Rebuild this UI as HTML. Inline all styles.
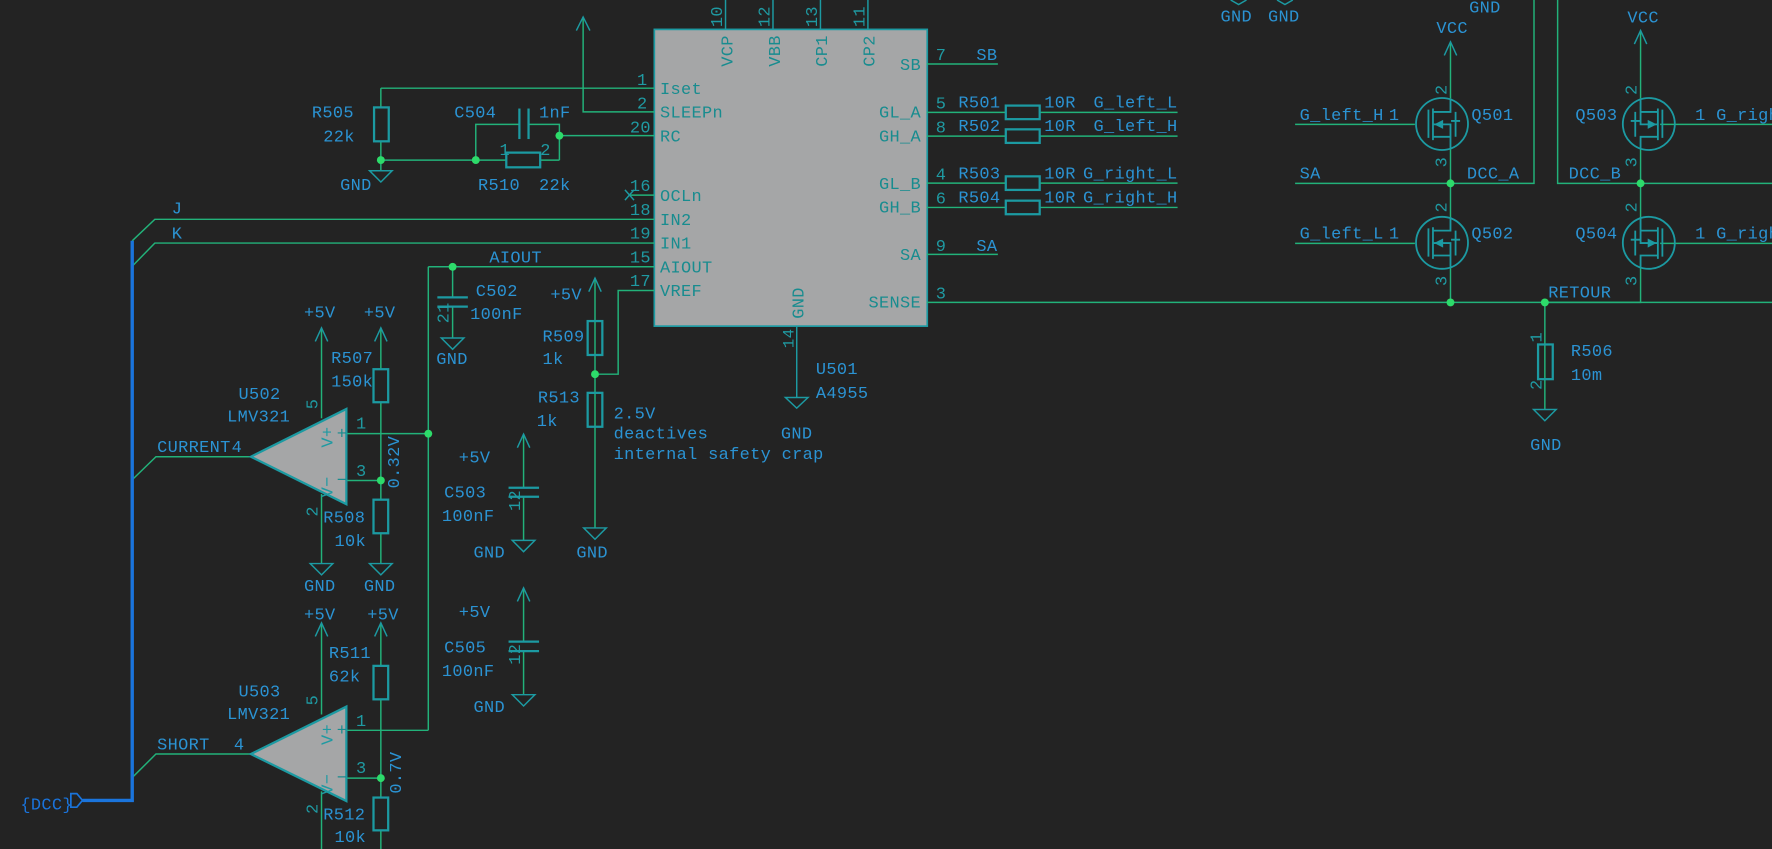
<!DOCTYPE html>
<html><head><meta charset="utf-8"><style>
html,body{margin:0;padding:0;background:#232323;overflow:hidden}
svg{display:block}
text{font-family:"Liberation Mono",monospace;font-size:15px;letter-spacing:0.3px}
.w{stroke:#22b27a;stroke-width:1.3;fill:none}
.c{stroke:#1c9aa2;stroke-width:2;fill:none}
.p{stroke:#1c9aa2;stroke-width:1.3;fill:none}
.r{fill:#2b93d3}
.n{fill:#188c8f}
.pn{fill:#1f9aa2;font-size:14px}
.j{fill:#2ddb6a}
</style></head><body>
<svg width="1772" height="849" viewBox="0 0 1568 751" preserveAspectRatio="none" xmlns="http://www.w3.org/2000/svg">
<rect width="1568" height="751" fill="#232323"/>

<rect x="579" y="26" width="241.5" height="262.5" fill="#a5a6a7" stroke="#1c9aa2" stroke-width="1.5"/>
<g class="p"><line x1="642" y1="0" x2="642" y2="26"/><line x1="684" y1="0" x2="684" y2="26"/><line x1="726" y1="0" x2="726" y2="26"/><line x1="768" y1="0" x2="768" y2="26"/></g>
<g class="pn">
<text transform="translate(639,24) rotate(-90)">10</text>
<text transform="translate(681,24) rotate(-90)">12</text>
<text transform="translate(723,24) rotate(-90)">13</text>
<text transform="translate(765,24) rotate(-90)">11</text>
</g>
<g class="n">
<text transform="translate(648,59) rotate(-90)">VCP</text>
<text transform="translate(690,59) rotate(-90)">VBB</text>
<text transform="translate(732,59) rotate(-90)">CP1</text>
<text transform="translate(774,59) rotate(-90)">CP2</text>
<text transform="translate(711,282) rotate(-90)">GND</text>
</g>
<g class="w">
<line x1="337" y1="78" x2="579" y2="78"/>
<polyline points="516,15 516,99 579,99"/>
<line x1="495" y1="120" x2="579" y2="120"/>
<line x1="557" y1="172.6" x2="579" y2="172.6"/>
<polyline points="117,213 137,194 579,194"/>
<polyline points="117,235.5 137,215 579,215"/>
<line x1="379" y1="236" x2="579" y2="236"/>
<polyline points="526.5,331 547,331 547,257 579,257"/>
</g>
<path class="p" d="M510,27 L516,15 L522,27"/>
<path class="p" d="M553,168 L561,177 M561,168 L553,177"/>
<g class="pn" text-anchor="end">
<text x="573" y="75">1</text><text x="573" y="96">2</text><text x="576" y="117">20</text>
<text x="576" y="169">16</text><text x="576" y="190">18</text><text x="576" y="211">19</text>
<text x="576" y="232">15</text><text x="576" y="253">17</text>
</g>
<g class="n">
<text x="584" y="83">Iset</text><text x="584" y="104">SLEEPn</text><text x="584" y="125">RC</text>
<text x="584" y="178">OCLn</text><text x="584" y="199">IN2</text><text x="584" y="220">IN1</text>
<text x="584" y="241">AIOUT</text><text x="584" y="262">VREF</text>
</g>
<g class="w">
<line x1="820" y1="56.6" x2="883" y2="56.6"/>
<line x1="820" y1="99.4" x2="1042" y2="99.4"/>
<line x1="820" y1="120.4" x2="1042" y2="120.4"/>
<line x1="820" y1="162" x2="1042" y2="162"/>
<line x1="820" y1="183.5" x2="1042" y2="183.5"/>
<line x1="820" y1="225" x2="883" y2="225"/>
<line x1="820" y1="267.5" x2="1568" y2="267.5"/>
</g>
<g class="c">
<rect x="890" y="93.4" width="30" height="12" fill="#232323"/>
<rect x="890" y="114.4" width="30" height="12" fill="#232323"/>
<rect x="890" y="156" width="30" height="12" fill="#232323"/>
<rect x="890" y="177.5" width="30" height="12" fill="#232323"/>
</g>
<g class="n" text-anchor="end">
<text x="815" y="62">SB</text><text x="815" y="104">GL_A</text><text x="815" y="125">GH_A</text>
<text x="815" y="167">GL_B</text><text x="815" y="188">GH_B</text><text x="815" y="230">SA</text>
<text x="815" y="272">SENSE</text>
</g>
<g class="pn">
<text x="828" y="53">7</text><text x="828" y="96">5</text><text x="828" y="117">8</text>
<text x="828" y="159">4</text><text x="828" y="180">6</text><text x="828" y="222">9</text><text x="828" y="264">3</text>
</g>
<g class="r">
<text x="864" y="53">SB</text><text x="864" y="222">SA</text>
<text x="848" y="95">R501</text><text x="848" y="116">R502</text><text x="848" y="158">R503</text><text x="848" y="179">R504</text>
<text x="924" y="95">10R</text><text x="924" y="116">10R</text><text x="924" y="158">10R</text><text x="924" y="179">10R</text>
</g>
<g class="r" text-anchor="end">
<text x="1042" y="95">G_left_L</text><text x="1042" y="116">G_left_H</text>
<text x="1042" y="158">G_right_L</text><text x="1042" y="179">G_right_H</text>
</g>
<line class="p" x1="705" y1="288.5" x2="705" y2="351.6"/>
<path class="p" d="M695,351.6 L715,351.6 L705,361 Z"/>
<text class="pn" transform="translate(702,308) rotate(-90)">14</text>
<text class="r" x="722" y="331">U501</text>
<text class="r" x="722" y="352">A4955</text>
<text class="r" x="691" y="388">GND</text>

<g class="w">
<line x1="337" y1="78" x2="337" y2="95"/><line x1="337" y1="125" x2="337" y2="151"/>
<line x1="337" y1="141.6" x2="448" y2="141.6"/><line x1="478" y1="141.6" x2="495" y2="141.6"/>
<polyline points="421,141.6 421,110 459.6,110"/><polyline points="467.7,110 495,110 495,141.6"/>
</g>
<rect class="c" x="331" y="95" width="13" height="30"/>
<path class="p" d="M327,151 L347,151 L337,161 Z"/>
<line class="c" x1="459.6" y1="96" x2="459.6" y2="123"/><line class="c" x1="467.7" y1="96" x2="467.7" y2="123"/>
<rect class="c" x="448" y="135" width="30" height="13"/>
<circle class="j" cx="337" cy="141.6" r="3.5"/><circle class="j" cx="421" cy="141.6" r="3.5"/><circle class="j" cx="495" cy="120" r="3.5"/>
<g class="r">
<text x="276" y="104">R505</text><text x="286" y="125">22k</text><text x="301" y="168">GND</text>
<text x="402" y="104">C504</text><text x="477" y="104">1nF</text>
<text x="423" y="168">R510</text><text x="477" y="168">22k</text>
<text x="152" y="189">J</text><text x="152" y="211">K</text>
<text x="433" y="232">AIOUT</text>
</g>
<g class="pn"><text x="442" y="137">1</text><text x="478" y="137">2</text></g>

<line class="w" x1="379" y1="236" x2="379" y2="646"/>
<line class="w" x1="400.5" y1="236" x2="400.5" y2="263"/>
<line class="w" x1="400.5" y1="271" x2="400.5" y2="299"/>
<line class="c" x1="387" y1="263" x2="414" y2="263"/><line class="c" x1="387" y1="271.2" x2="414" y2="271.2"/>
<path class="p" d="M390.5,299 L410.5,299 L400.5,309 Z"/>
<circle class="j" cx="400.5" cy="236" r="3.5"/>
<g class="r"><text x="421" y="262">C502</text><text x="416" y="282">100nF</text><text x="386" y="322">GND</text></g>
<g class="pn"><text transform="translate(397,286) rotate(-90)">21</text></g>

<line class="w" x1="526.5" y1="246" x2="526.5" y2="467"/>
<path class="p" d="M521,258 L526.5,246 L532,258"/>
<rect class="c" x="520" y="284" width="13" height="30" fill="#232323"/>
<rect class="c" x="520" y="347.5" width="13" height="30" fill="#232323"/>
<path class="p" d="M516.5,467 L536.5,467 L526.5,477 Z"/>
<circle class="j" cx="526.5" cy="331" r="3.5"/>
<g class="r">
<text x="487" y="265">+5V</text><text x="480" y="302">R509</text><text x="480" y="322">1k</text>
<text x="476" y="356">R513</text><text x="475" y="377">1k</text><text x="510" y="493">GND</text>
<text x="543" y="370">2.5V</text><text x="543" y="388">deactives</text><text x="543" y="406">internal safety crap</text>
</g>

<g class="w">
<line x1="463.3" y1="384" x2="463.3" y2="431.4"/><line x1="463.3" y1="439" x2="463.3" y2="478"/>
<line x1="463.3" y1="520" x2="463.3" y2="567.6"/><line x1="463.3" y1="576" x2="463.3" y2="614.5"/>
</g>
<path class="p" d="M457.8,396 L463.3,384 L468.8,396 M457.8,532 L463.3,520 L468.8,532"/>
<g class="c"><line x1="450" y1="431.4" x2="477" y2="431.4"/><line x1="450" y1="439.4" x2="477" y2="439.4"/>
<line x1="450" y1="567.6" x2="477" y2="567.6"/><line x1="450" y1="576" x2="477" y2="576"/></g>
<path class="p" d="M453.3,478 L473.3,478 L463.3,488 Z M453.3,614.5 L473.3,614.5 L463.3,624.5 Z"/>
<g class="r">
<text x="406" y="409">+5V</text><text x="393" y="440">C503</text><text x="391" y="461">100nF</text><text x="419" y="493">GND</text>
<text x="406" y="546">+5V</text><text x="393" y="577">C505</text><text x="391" y="598">100nF</text><text x="419" y="630">GND</text>
</g>
<g class="pn"><text transform="translate(460,452) rotate(-90)">12</text><text transform="translate(460,588) rotate(-90)">12</text></g>

<g class="w">
<line x1="284.5" y1="290" x2="284.5" y2="370"/><line x1="284.5" y1="437" x2="284.5" y2="498.5"/>
<line x1="337" y1="290" x2="337" y2="326.6"/><line x1="337" y1="356" x2="337" y2="442"/><line x1="337" y1="472" x2="337" y2="498.5"/>
<line x1="306.5" y1="383.6" x2="379" y2="383.6"/><line x1="306.5" y1="425" x2="337" y2="425"/>
<polyline points="117,424.4 138,404 222,404"/>
</g>
<path class="p" d="M279,302 L284.5,290 L290,302 M331.5,302 L337,290 L342.5,302"/>
<path d="M222,404 L306.5,361.8 L306.5,446 Z" fill="#a5a6a7" stroke="#1c9aa2" stroke-width="2"/>
<rect class="c" x="330.5" y="326.6" width="13" height="29.2"/>
<rect class="c" x="330.5" y="442" width="13" height="29.7"/>
<path class="p" d="M274.5,498.5 L294.5,498.5 L284.5,508.5 Z M327,498.5 L347,498.5 L337,508.5 Z"/>
<circle class="j" cx="379" cy="383.6" r="3.5"/><circle class="j" cx="337" cy="425" r="3.5"/>
<g class="n" font-size="12"><text x="298" y="388">+</text><text x="298" y="429">−</text></g>
<g class="pn">
<text x="315" y="379">1</text><text x="315" y="421">3</text>
<text transform="translate(281,362) rotate(-90)">5</text><text transform="translate(281,457) rotate(-90)">2</text>
<text transform="translate(294,396) rotate(-90)">V+</text><text transform="translate(294,440) rotate(-90)">V−</text>
</g>
<g class="r">
<text x="269" y="281">+5V</text><text x="322" y="281">+5V</text>
<text x="293" y="321">R507</text><text x="293" y="342">150k</text>
<text x="211" y="353">U502</text><text x="201" y="373">LMV321</text>
<text x="139" y="400">CURRENT</text><text x="205" y="400">4</text>
<text x="286" y="462">R508</text><text x="296" y="483">10k</text>
<text x="269" y="523">GND</text><text x="322" y="523">GND</text>
<text transform="translate(353,432) rotate(-90)">0.32V</text>
</g>

<g class="w">
<line x1="284.5" y1="551" x2="284.5" y2="632"/><line x1="284.5" y1="700" x2="284.5" y2="751"/>
<line x1="337" y1="551" x2="337" y2="589"/><line x1="337" y1="618.6" x2="337" y2="705.5"/><line x1="337" y1="734" x2="337" y2="751"/>
<polyline points="306.5,646 379,646"/><line x1="306.5" y1="688.3" x2="337" y2="688.3"/>
<polyline points="117,687.8 138,667 222,667"/>
</g>
<path class="p" d="M279,563 L284.5,551 L290,563 M331.5,563 L337,551 L342.5,563"/>
<path d="M222,667 L306.5,625 L306.5,708.6 Z" fill="#a5a6a7" stroke="#1c9aa2" stroke-width="2"/>
<rect class="c" x="330.5" y="589" width="13" height="29.6"/>
<rect class="c" x="330.5" y="705.5" width="13" height="29"/>
<circle class="j" cx="337" cy="688.3" r="3.5"/>
<g class="n" font-size="12"><text x="298" y="650">+</text><text x="298" y="692">−</text></g>
<g class="pn">
<text x="315" y="642">1</text><text x="315" y="684">3</text>
<text transform="translate(281,624) rotate(-90)">5</text><text transform="translate(281,720) rotate(-90)">2</text>
<text transform="translate(294,659) rotate(-90)">V+</text><text transform="translate(294,703) rotate(-90)">V−</text>
</g>
<g class="r">
<text x="269" y="548">+5V</text><text x="325" y="548">+5V</text>
<text x="291" y="582">R511</text><text x="291" y="603">62k</text>
<text x="211" y="616">U503</text><text x="201" y="636">LMV321</text>
<text x="139" y="663">SHORT</text><text x="207" y="663">4</text>
<text x="286" y="725">R512</text><text x="296" y="745">10k</text>
<text transform="translate(355,702) rotate(-90)">0.7V</text>
</g>

<polyline points="117,213 117,708 73,708" fill="none" stroke="#1a74dc" stroke-width="3"/>
<path d="M62.7,702 L68,702 L73,708 L68,714 L62.7,714 Z" fill="none" stroke="#1a74dc" stroke-width="1.5"/>
<text x="18" y="716" fill="#1a74dc">{DCC}</text>

<path class="p" d="M1089,0 L1096,4 L1103,0 M1130,0 L1137,4 L1144,0"/>
<g class="r"><text x="1080" y="19">GND</text><text x="1122" y="19">GND</text><text x="1300" y="11">GND</text></g>

<g class="w">
<line x1="1283.5" y1="37" x2="1283.5" y2="87"/><line x1="1283.5" y1="132" x2="1283.5" y2="192"/><line x1="1283.5" y1="237" x2="1283.5" y2="267.5"/>
<line x1="1146" y1="110" x2="1252" y2="110"/><line x1="1146" y1="215.3" x2="1252" y2="215.3"/>
<polyline points="1146,162.2 1357.4,162.2 1357.4,0"/>
<polyline points="1378.3,0 1378.3,162.2 1568,162.2"/>
<line x1="1451.7" y1="27" x2="1451.7" y2="87"/><line x1="1451.7" y1="132" x2="1451.7" y2="192"/><polyline points="1451.7,237 1451.7,267.5 1367,267.5"/>
<line x1="1469" y1="110" x2="1568" y2="110"/><line x1="1469" y1="215.3" x2="1568" y2="215.3"/>
<line x1="1367" y1="267.5" x2="1367" y2="362"/>
</g>
<path class="p" d="M1278,49 L1283.5,37 L1289,49 M1446.2,39 L1451.7,27 L1457.2,39"/>
<rect class="c" x="1361" y="304.7" width="13" height="30.7" fill="#232323"/>
<path class="p" d="M1357,362.2 L1377,362.2 L1367,372.2 Z"/>
<circle class="j" cx="1283.5" cy="162.2" r="3.5"/><circle class="j" cx="1283.5" cy="267.5" r="3.5"/>
<circle class="j" cx="1367" cy="267.5" r="3.5"/><circle class="j" cx="1451.7" cy="162.2" r="3.5"/>
<g stroke="#1c9aa2" stroke-width="1.6" fill="none">
<circle cx="1276" cy="109.7" r="23"/><circle cx="1276" cy="214.8" r="23"/>
<circle cx="1459" cy="109.7" r="23"/><circle cx="1459" cy="214.8" r="23"/>
<path d="M1264,97 V122 M1268,96 V124 M1268,99 H1283.5 V87 M1268,121 H1283.5 V132 M1268,110 H1283.5 V121 M1288,99 V121 M1284,107 H1292"/>
<path d="M1264,202 V227 M1268,201 V229 M1268,204 H1283.5 V192 M1268,226 H1283.5 V237 M1268,215 H1283.5 V226 M1288,204 V226 M1284,212 H1292"/>
<path d="M1471,97 V122 M1467,96 V124 M1467,99 H1451.7 V87 M1467,121 H1451.7 V132 M1467,110 H1451.7 V99 M1447,99 V121 M1443,107 H1451"/>
<path d="M1471,202 V227 M1467,201 V229 M1467,204 H1451.7 V192 M1467,226 H1451.7 V237 M1467,215 H1451.7 V204 M1447,204 V226 M1443,212 H1451"/>
</g>
<g fill="#1c9aa2">
<path d="M1269,110 L1277,106 L1277,114 Z"/><path d="M1269,215 L1277,211 L1277,219 Z"/>
<path d="M1466,110 L1458,106 L1458,114 Z"/><path d="M1466,215 L1458,211 L1458,219 Z"/>
</g>
<g class="pn">
<text transform="translate(1280,84) rotate(-90)">2</text><text transform="translate(1280,148) rotate(-90)">3</text>
<text transform="translate(1280,188) rotate(-90)">2</text><text transform="translate(1280,253) rotate(-90)">3</text>
<text transform="translate(1448,84) rotate(-90)">2</text><text transform="translate(1448,148) rotate(-90)">3</text>
<text transform="translate(1448,188) rotate(-90)">2</text><text transform="translate(1448,253) rotate(-90)">3</text>
<text transform="translate(1364,303) rotate(-90)">1</text><text transform="translate(1364,345) rotate(-90)">2</text>
</g>
<g class="r">
<text x="1271" y="29">VCC</text><text x="1440" y="20">VCC</text>
<text x="1150" y="106">G_left_H</text><text x="1229" y="106">1</text>
<text x="1150" y="211">G_left_L</text><text x="1229" y="211">1</text>
<text x="1302" y="106">Q501</text><text x="1302" y="211">Q502</text>
<text x="1150" y="158">SA</text><text x="1298" y="158">DCC_A</text><text x="1388" y="158">DCC_B</text>
<text x="1394" y="106">Q503</text><text x="1394" y="211">Q504</text>
<text x="1500" y="106">1 G_right</text><text x="1500" y="211">1 G_right</text>
<text x="1370" y="263">RETOUR</text>
<text x="1390" y="315">R506</text><text x="1390" y="336">10m</text>
<text x="1354" y="398">GND</text>
</g>
</svg>
</body></html>
